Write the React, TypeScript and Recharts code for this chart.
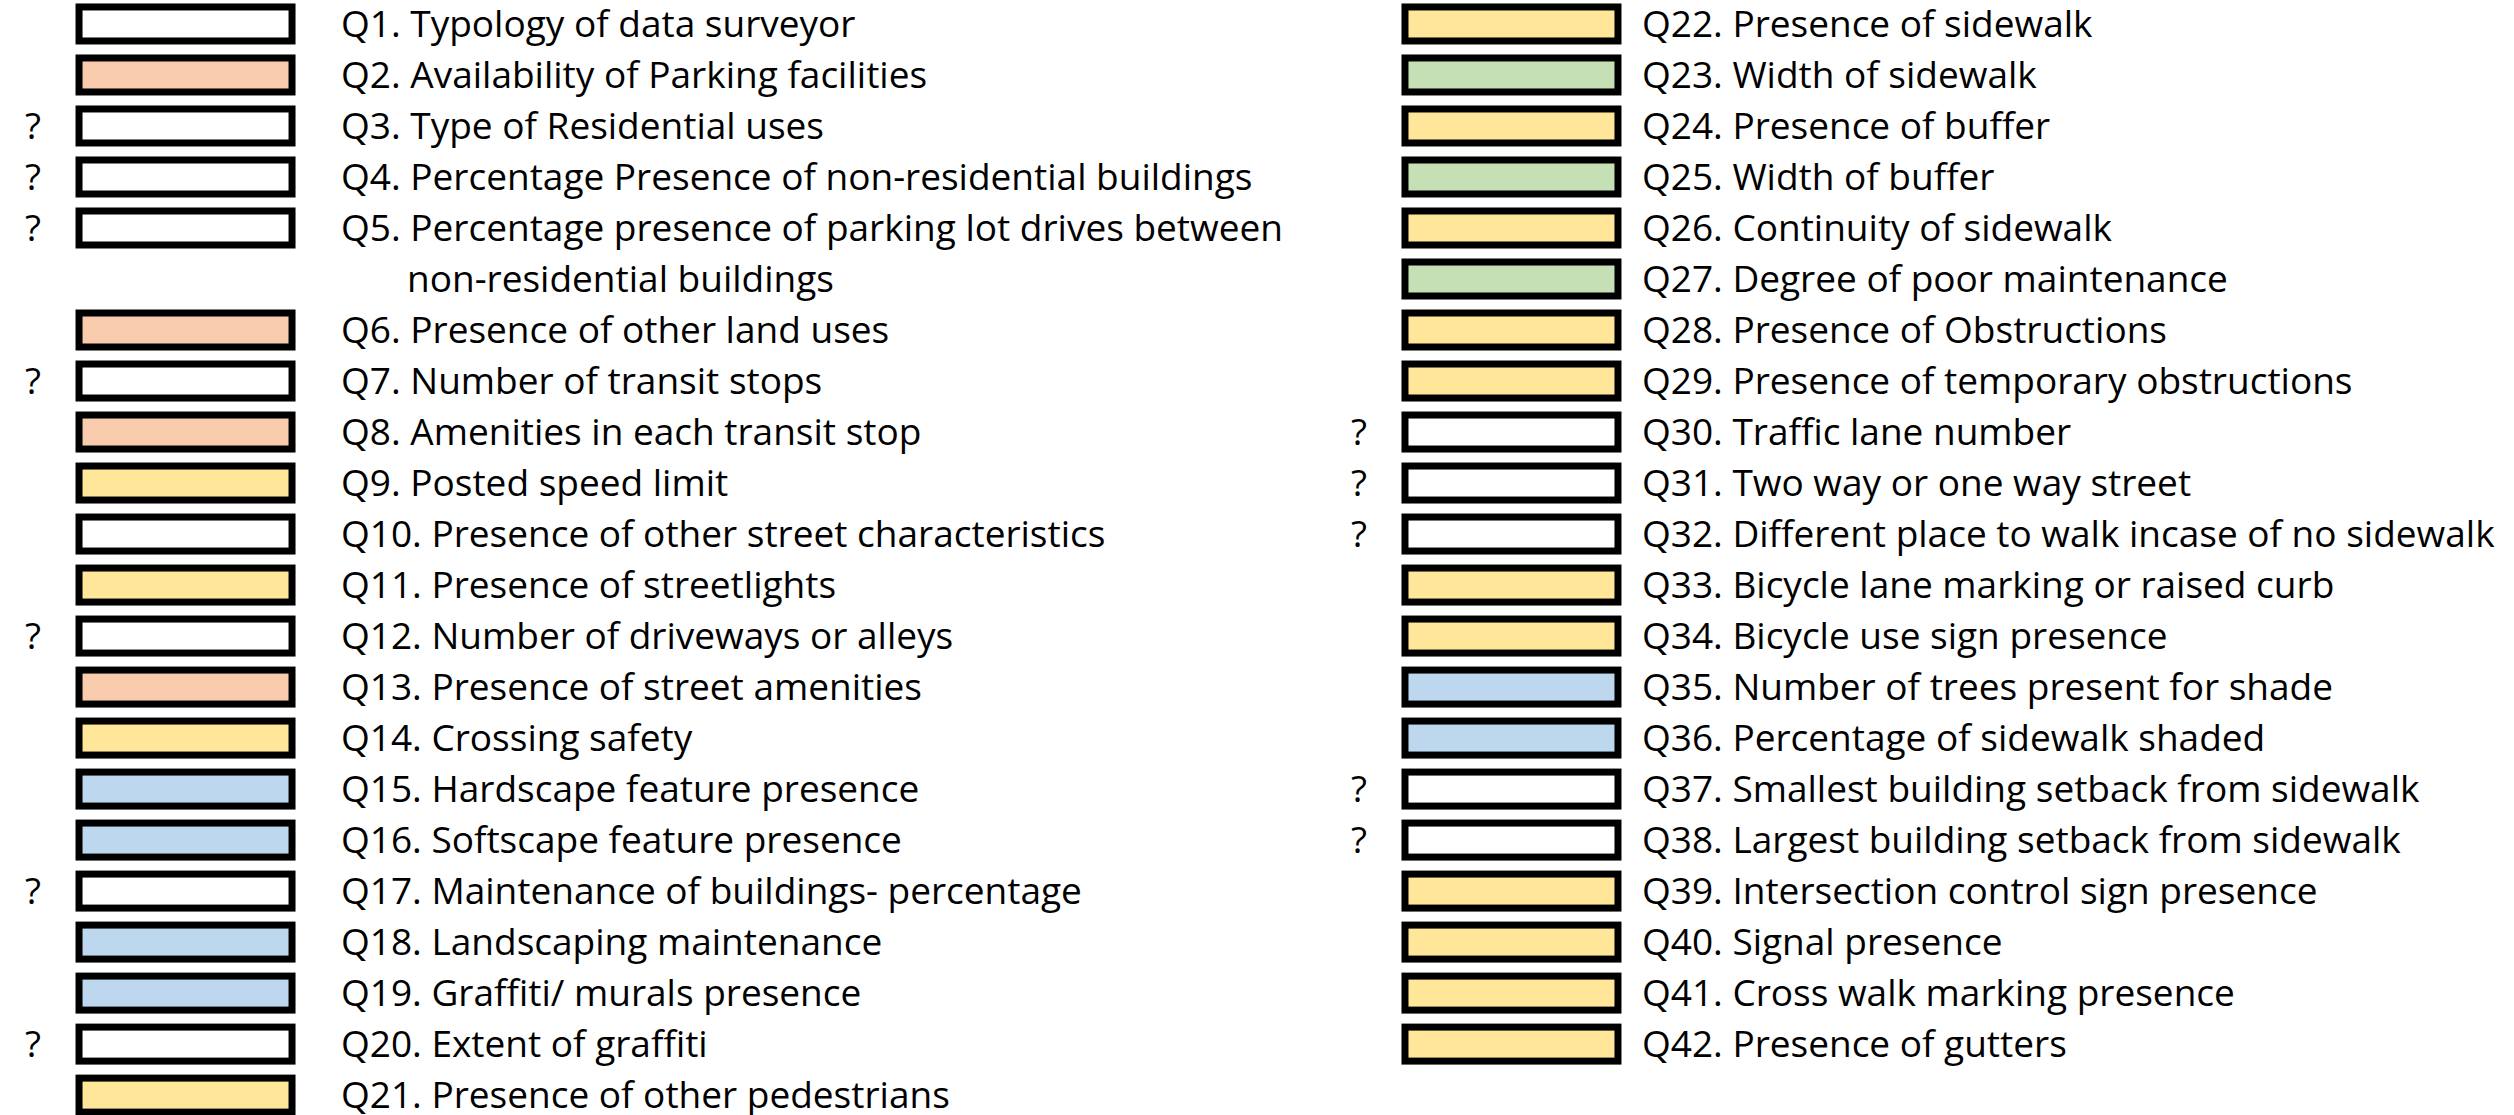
import { ScatterChart, Scatter, XAxis, YAxis } from "recharts";

// question texts, Q1..Q42
const questions = [
  "Typology of data surveyor",
  "Availability of Parking facilities",
  "Type of Residential uses",
  "Percentage Presence of non-residential buildings",
  "Percentage presence of parking lot drives between\nnon-residential buildings",
  "Presence of other land uses",
  "Number of transit stops",
  "Amenities in each transit stop",
  "Posted speed limit",
  "Presence of other street characteristics",
  "Presence of streetlights",
  "Number of driveways or alleys",
  "Presence of street amenities",
  "Crossing safety",
  "Hardscape feature presence",
  "Softscape feature presence",
  "Maintenance of buildings- percentage",
  "Landscaping maintenance",
  "Graffiti/ murals presence",
  "Extent of graffiti",
  "Presence of other pedestrians",
  "Presence of sidewalk",
  "Width of sidewalk",
  "Presence of buffer",
  "Width of buffer",
  "Continuity of sidewalk",
  "Degree of poor maintenance",
  "Presence of Obstructions",
  "Presence of temporary obstructions",
  "Traffic lane number",
  "Two way or one way street",
  "Different place to walk incase of no sidewalk",
  "Bicycle lane marking or raised curb",
  "Bicycle use sign presence",
  "Number of trees present for shade",
  "Percentage of sidewalk shaded",
  "Smallest building setback from sidewalk",
  "Largest building setback from sidewalk",
  "Intersection control sign presence",
  "Signal presence",
  "Cross walk marking presence",
  "Presence of gutters",
];

// box category per question
const groups = [
  "W", "O", "W", "W", "W", "O", "W", "O", "Y", "W", "Y", "W", "O", "Y", "B", "B", "W", "B", "B", "W", "Y",
  "Y", "G", "Y", "G", "Y", "G", "Y", "Y", "W", "W", "W", "Y", "Y", "B", "B", "W", "W", "Y", "Y", "Y", "Y",
];

const groupFill: Record<string, string> = {
  W: "#FFFFFF",
  O: "#F8CBAD",
  Y: "#FFE699",
  G: "#C5E0B4",
  B: "#BDD7EE",
};

// questions marked with "?"
const uncertain = [3, 4, 5, 7, 12, 17, 20, 30, 31, 32, 37, 38];

const firstRightQ = 22;

type Row = { q: number; col: number; slot: number; text: string; fill: string; unsure: boolean };

const rows: Row[] = [];
[0, 1].forEach((col) => {
  let slot = 0;
  questions.forEach((text, i) => {
    const q = i + 1;
    if ((col === 0) !== q < firstRightQ) return;
    rows.push({ q, col, slot, text, fill: groupFill[groups[i]], unsure: uncertain.includes(q) });
    slot += text.split("\n").length;
  });
});

const FONT = "'Open Sans', 'Noto Sans', sans-serif";
const SIZE = 37;

function Item(props: any) {
  const { cx, cy, payload } = props;
  const lines: string[] = payload.text.split("\n");
  const tx = cx + (payload.col === 0 ? 155 : 130);
  return (
    <g>
      <rect x={cx - 107} y={cy - 17} width={213} height={34} fill={payload.fill} stroke="#000" strokeWidth={7} />
      {payload.unsure && (
        <text x={cx - 153} y={cy + 13} textAnchor="middle" fontFamily={FONT} fontSize={SIZE} fill="#000">
          ?
        </text>
      )}
      {lines.map((l, k) => (
        <text
          key={k}
          x={k === 0 ? tx : tx + 66}
          y={cy + 13 + k * 51}
          fontFamily={FONT}
          fontSize={SIZE}
          fill="#000"
        >
          {k === 0 ? `Q${payload.q}. ${l}` : l}
        </text>
      ))}
    </g>
  );
}

export default function App() {
  return (
    <div style={{ background: "#fff", width: 2514, height: 1115 }}>
      <style>{`body{margin:0}`}</style>
      <ScatterChart width={2514} height={1115} margin={{ top: 0, right: 0, bottom: 0, left: 0 }}>
        <XAxis type="number" dataKey="col" domain={[-0.1403, 1.7557]} hide />
        <YAxis type="number" dataKey="slot" domain={[-0.47, 21.39]} reversed hide />
        <Scatter data={rows} shape={<Item />} isAnimationActive={false} />
      </ScatterChart>
    </div>
  );
}
